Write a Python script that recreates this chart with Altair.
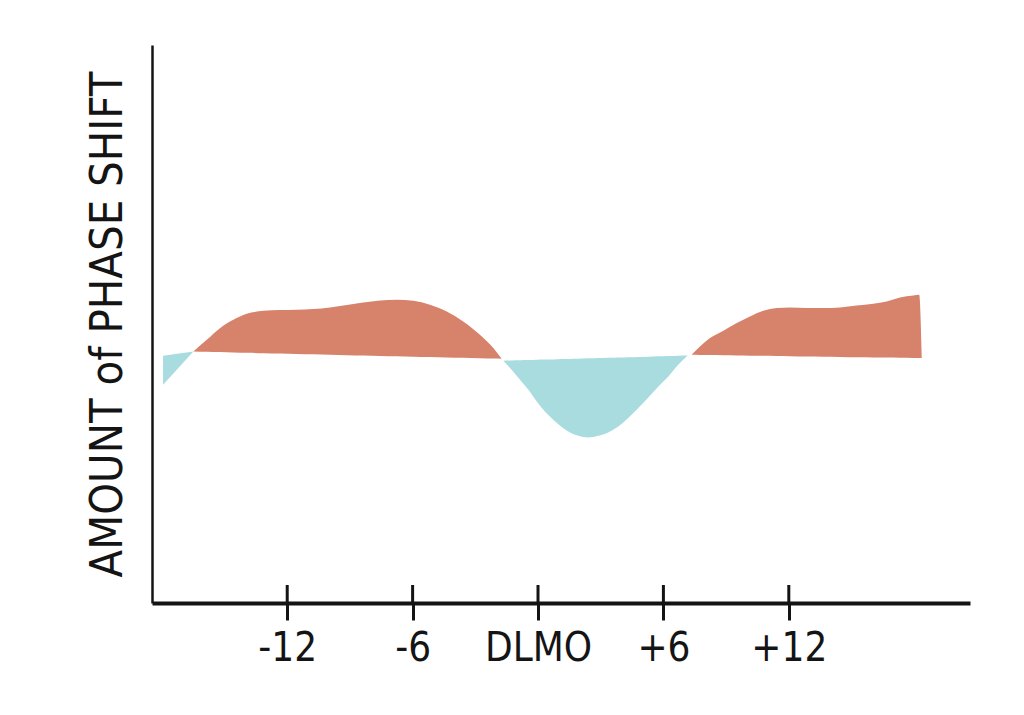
import altair as alt
import pandas as pd

# --- data (x in hours relative to DLMO, y in arbitrary shift units) ---
tick_hours = [-12, -6, 0, 6, 12]
tick_labels = ["-12", "-6", "DLMO", "+6", "+12"]

# delay region at the far left (blue)
blue1_x = [-17.94, -16.49]
blue1_y = [-5.2, 0.77]
blue1_base = [0.0, 0.77]

# advance region before DLMO (orange)
orange1_x = [-16.49, -15.85, -15.22, -14.58, -13.94, -13.14, -12.34, -11.55, -10.75,
             -9.95, -9.15, -8.36, -7.56, -6.76, -5.97, -5.17, -4.37, -3.58, -2.78,
             -2.14, -1.74]
orange1_y = [0.77, 2.87, 4.96, 6.45, 7.53, 8.06, 8.19, 8.24, 8.37,
             8.66, 9.09, 9.55, 9.91, 10.04, 9.86, 9.14, 7.94, 6.15, 3.76,
             1.38, -0.54]
orange1_base = [0.77, 0.72, 0.66, 0.60, 0.55, 0.47, 0.40, 0.33, 0.26,
                0.19, 0.12, 0.05, -0.02, -0.09, -0.16, -0.23, -0.30, -0.37, -0.44,
                -0.50, -0.54]

# delay region around DLMO (blue)
blue2_x = [-1.66, -1.26, -0.86, -0.46, -0.06, 0.33, 0.73, 1.13, 1.53, 1.93, 2.41,
           2.89, 3.36, 3.84, 4.32, 4.80, 5.28, 5.76, 6.24, 6.71, 7.16]
blue2_y = [-0.90, -2.51, -4.30, -6.09, -8.19, -9.98, -11.47, -12.78, -13.75, -14.34,
           -14.64, -14.34, -13.75, -12.67, -11.16, -9.37, -7.49, -5.50, -3.71, -1.61,
           0.05]
blue2_base = [-0.90, -0.85, -0.81, -0.77, -0.72, -0.68, -0.64, -0.59, -0.55, -0.51,
              -0.46, -0.41, -0.35, -0.30, -0.25, -0.20, -0.15, -0.10, -0.04, 0.01,
              0.05]

# advance region after DLMO (orange)
orange2_x = [7.35, 7.75, 8.23, 8.87, 9.51, 10.14, 10.78, 11.42, 12.06, 12.86, 13.65,
             14.45, 15.25, 16.04, 16.68, 17.32, 17.96, 18.24, 18.36]
orange2_y = [0.18, 1.67, 3.17, 4.48, 5.86, 7.04, 8.06, 8.55, 8.66, 8.55, 8.55,
             8.66, 9.01, 9.32, 9.73, 10.45, 10.81, 10.93, -0.41]
orange2_base = [0.18, 0.16, 0.13, 0.10, 0.06, 0.03, -0.01, -0.04, -0.07, -0.12, -0.16,
                -0.20, -0.25, -0.29, -0.32, -0.36, -0.39, -0.41, -0.41]

segments = [
    ("s1", "delay", blue1_x, blue1_y, blue1_base),
    ("s2", "advance", orange1_x, orange1_y, orange1_base),
    ("s3", "delay", blue2_x, blue2_y, blue2_base),
    ("s4", "advance", orange2_x, orange2_y, orange2_base),
]
rows = []
for seg, kind, xs, ys, bs in segments:
    for x, y, b in zip(xs, ys, bs):
        rows.append({"seg": seg, "kind": kind, "hour": x, "shift": y, "base": b})
df = pd.DataFrame(rows)
ticks_df = pd.DataFrame({"hour": tick_hours})

x_domain = [-18.47, 20.67]
y_domain = [-44.3, 55.7]
FONT = "Liberation Sans Narrow, DejaVu Sans Condensed, sans-serif"
INK = "#141414"

label_expr = " : ".join(
    f"datum.value == {h} ? '{l}'" for h, l in zip(tick_hours, tick_labels)
) + " : ''"

areas = alt.Chart(df).mark_area(interpolate="monotone").encode(
    x=alt.X("hour:Q",
            scale=alt.Scale(domain=x_domain, nice=False, zero=False),
            axis=alt.Axis(values=tick_hours, labelExpr=label_expr, title=None,
                          grid=False, domainColor=INK, domainWidth=4,
                          tickColor=INK, tickWidth=3, tickSize=17,
                          labelFont=FONT, labelFontSize=40, labelColor=INK,
                          labelPadding=8)),
    y=alt.Y("shift:Q",
            scale=alt.Scale(domain=y_domain, nice=False, zero=False),
            axis=alt.Axis(title="AMOUNT of PHASE SHIFT", labels=False, ticks=False,
                          grid=False, domainColor=INK, domainWidth=2.5,
                          titleFont=FONT, titleFontSize=45, titleFontWeight="normal",
                          titleColor=INK, titlePadding=22)),
    y2="base:Q",
    color=alt.Color("kind:N",
                    scale=alt.Scale(domain=["advance", "delay"],
                                    range=["#D7826A", "#A9DCDF"]),
                    legend=None),
    detail="seg:N",
)

tick_tops = alt.Chart(ticks_df).mark_rule(color=INK, strokeWidth=3).encode(
    x=alt.X("hour:Q", scale=alt.Scale(domain=x_domain, nice=False, zero=False)),
    y=alt.value(540),
    y2=alt.value(558),
)

chart = alt.layer(areas, tick_tops).properties(
    width=818, height=558,
    autosize=alt.AutoSizeParams(type="none"),
    padding={"left": 144, "top": 37, "right": 38, "bottom": 96},
    background="white",
).configure_view(stroke=None)

chart.save("out.html", embed_options={"renderer": "svg", "actions": False})
